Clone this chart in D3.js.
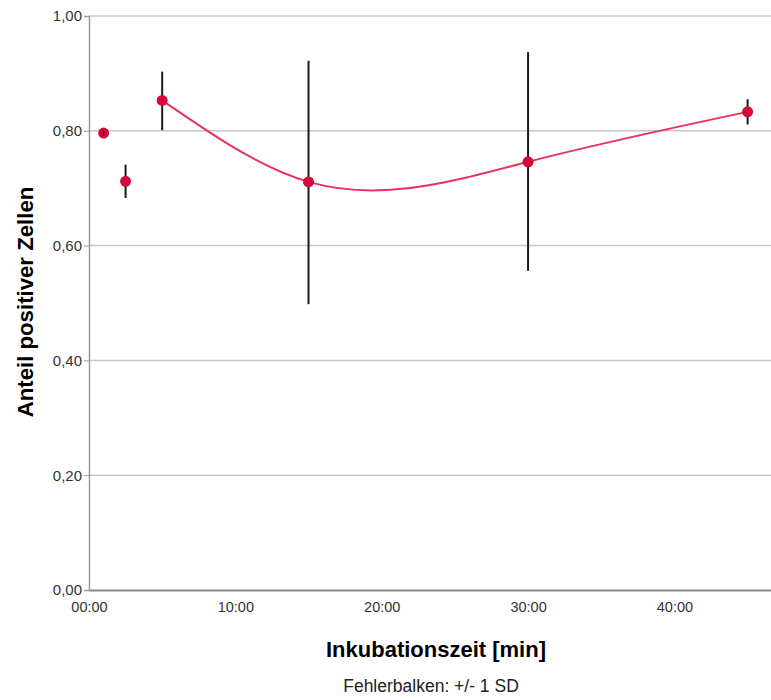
<!DOCTYPE html>
<html>
<head>
<meta charset="utf-8">
<script src="https://cdn.jsdelivr.net/npm/d3@7"></script>
<style>
  body { margin: 0; background: #fff; }
  text { font-family: "Liberation Sans", Arial, sans-serif; }
</style>
</head>
<body>
<script>
// data
var minutes = [1, 2.5, 5, 15, 30, 45];
var means   = [0.796, 0.712, 0.853, 0.711, 0.746, 0.833];
var sdLow   = [null, 0.683, 0.801, 0.498, 0.556, 0.811];
var sdHigh  = [null, 0.741, 0.903, 0.922, 0.937, 0.855];
// the interpolation line only runs through these time points
var lineMinutes = [5, 15, 30, 45];
var yTicks = [0, 0.2, 0.4, 0.6, 0.8, 1.0];
var xTicks = [0, 10, 20, 30, 40];

var width = 771, height = 700;
var margin = {left: 89, right: 0, top: 16, bottom: 110};

// natural cubic spline of y as a function of x (like the spss "spline" line)
function SplineX(context){ this._context = context; }
SplineX.prototype = {
  areaStart: function(){ this._line = 0; },
  areaEnd: function(){ this._line = NaN; },
  lineStart: function(){ this._x = []; this._y = []; },
  point: function(x, y){ this._x.push(+x); this._y.push(+y); },
  lineEnd: function(){
    var xs = this._x, ys = this._y, n = xs.length - 1, c = this._context;
    if (n < 0) return;
    c.moveTo(xs[0], ys[0]);
    if (n < 2){ if (n == 1) c.lineTo(xs[1], ys[1]); return; }
    var h = [], s = [];
    for (var i = 0; i < n; i++){ h[i] = xs[i+1] - xs[i]; s[i] = (ys[i+1] - ys[i]) / h[i]; }
    //tridiagonal solve for second derivatives, M0 = Mn = 0
    var M = new Array(n + 1).fill(0);
    var a = [], b = [], cc = [], r = [];
    for (var i = 1; i < n; i++){
      a[i] = h[i-1]; b[i] = 2 * (h[i-1] + h[i]); cc[i] = h[i]; r[i] = 6 * (s[i] - s[i-1]);
    }
    for (var i = 2; i < n; i++){
      var m = a[i] / b[i-1];
      b[i] -= m * cc[i-1]; r[i] -= m * r[i-1];
    }
    M[n-1] = r[n-1] / b[n-1];
    for (var i = n - 2; i >= 1; i--) M[i] = (r[i] - cc[i] * M[i+1]) / b[i];
    for (var i = 0; i < n; i++){
      var d0 = s[i] - h[i] * (2 * M[i] + M[i+1]) / 6;
      var d1 = s[i] + h[i] * (M[i] + 2 * M[i+1]) / 6;
      c.bezierCurveTo(xs[i] + h[i]/3, ys[i] + d0 * h[i]/3,
                      xs[i+1] - h[i]/3, ys[i+1] - d1 * h[i]/3,
                      xs[i+1], ys[i+1]);
    }
  }
};
function curveSplineX(context){ return new SplineX(context); }

var svg = d3.select("body").append("svg")
    .attr("width", width)
    .attr("height", height);

var x = d3.scaleLinear()
    .domain([0, 46.6])
    .range([margin.left, width - margin.right]);

var y = d3.scaleLinear()
    .domain([0, 1])
    .range([height - margin.bottom, margin.top]);

var fmtY = function(d){ return d3.format(".2f")(d).replace(".", ","); };
var fmtX = function(d){ return d3.format("02")(d) + ":00"; };

//gridlines
svg.append("g").selectAll("line")
    .data(yTicks.filter(function(d){ return d > 0; }))
    .enter().append("line")
    .attr("x1", x.range()[0]).attr("x2", x.range()[1])
    .attr("y1", function(d){ return y(d); })
    .attr("y2", function(d){ return y(d); })
    .attr("stroke", "#c8c8c8")
    .attr("stroke-width", 1.5);

//y axis
var yAxis = svg.append("g")
    .attr("transform", "translate(" + margin.left + ",0)")
    .call(d3.axisLeft(y).tickValues(yTicks).tickFormat(fmtY).tickSize(5).tickPadding(2));
yAxis.select(".domain").attr("stroke", "#9a9a9a").attr("stroke-width", 1.5);
yAxis.selectAll(".tick line").attr("stroke", "#9a9a9a");
yAxis.selectAll(".tick text").attr("font-size", 15).attr("fill", "#333");

//x axis
var xAxis = svg.append("g")
    .attr("transform", "translate(0," + y(0) + ")")
    .call(d3.axisBottom(x).tickValues(xTicks).tickFormat(fmtX).tickSize(0).tickPadding(12));
xAxis.select(".domain").attr("stroke", "#8a8a8a").attr("stroke-width", 2);
xAxis.selectAll(".tick text").attr("font-size", 14.5).attr("fill", "#333");

//axis titles
svg.append("text")
    .attr("x", 436).attr("y", 657)
    .attr("text-anchor", "middle")
    .attr("font-size", 22).attr("font-weight", "bold")
    .text("Inkubationszeit [min]");

svg.append("text")
    .attr("transform", "translate(33,302) rotate(-90)")
    .attr("text-anchor", "middle")
    .attr("font-size", 22.2).attr("font-weight", "bold")
    .text("Anteil positiver Zellen");

svg.append("text")
    .attr("x", 431).attr("y", 692)
    .attr("text-anchor", "middle")
    .attr("font-size", 17.5).attr("fill", "#222")
    .text("Fehlerbalken: +/- 1 SD");

var pts = minutes.map(function(m, i){
    return {m: m, v: means[i], lo: sdLow[i], hi: sdHigh[i]};
});

//interpolation line
var linePts = pts.filter(function(d){ return lineMinutes.indexOf(d.m) >= 0; });
var line = d3.line()
    .x(function(d){ return x(d.m); })
    .y(function(d){ return y(d.v); })
    .curve(curveSplineX);
svg.append("path")
    .datum(linePts)
    .attr("d", line)
    .attr("fill", "none")
    .attr("stroke", "#e8335c")
    .attr("stroke-width", 2);

//error bars
svg.append("g").selectAll("line")
    .data(pts.filter(function(d){ return d.lo != null; }))
    .enter().append("line")
    .attr("x1", function(d){ return x(d.m); })
    .attr("x2", function(d){ return x(d.m); })
    .attr("y1", function(d){ return y(d.lo); })
    .attr("y2", function(d){ return y(d.hi); })
    .attr("stroke", "#1a1a1a")
    .attr("stroke-width", 2);

//points
svg.append("g").selectAll("circle")
    .data(pts)
    .enter().append("circle")
    .attr("cx", function(d){ return x(d.m); })
    .attr("cy", function(d){ return y(d.v); })
    .attr("r", 5.5)
    .attr("fill", "#d2093a");

// tiny dark stroke inside the first point
svg.append("line")
    .attr("x1", x(1)).attr("x2", x(1))
    .attr("y1", y(0.796) - 2.5).attr("y2", y(0.796) + 2.5)
    .attr("stroke", "#3a0010").attr("stroke-width", 1.5);
</script>
</body>
</html>
